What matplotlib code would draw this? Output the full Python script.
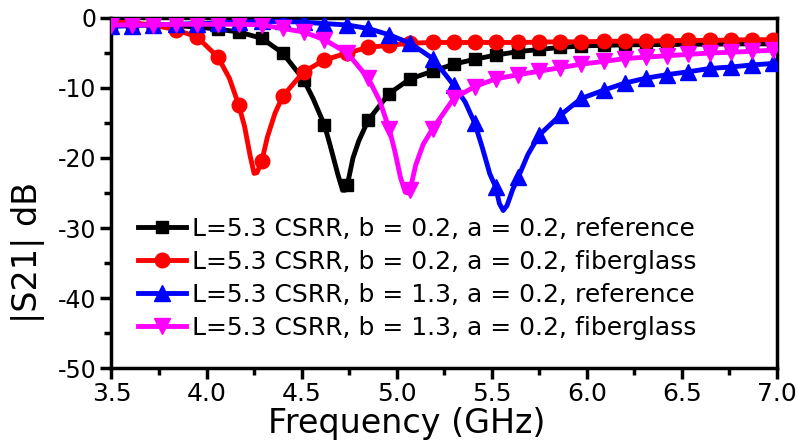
import numpy as np
import matplotlib.pyplot as plt
from matplotlib.ticker import MultipleLocator

plt.rcParams["axes.unicode_minus"] = False
plt.rcParams["font.family"] = "DejaVu Sans"

# marker frequencies (GHz), shared by all four curves
f_mark = [3.50, 3.61, 3.72, 3.84, 3.95, 4.06, 4.17, 4.29, 4.40, 4.51, 4.62,
          4.74, 4.85, 4.96, 5.07, 5.19, 5.30, 5.41, 5.52, 5.64, 5.75, 5.86,
          5.97, 6.09, 6.20, 6.31, 6.42, 6.53, 6.65, 6.76, 6.87, 6.98]

# |S21| in dB at the marker frequencies
black_mark = [-0.8, -0.9, -1.0, -1.1, -1.3, -1.6, -2.0, -2.9, -5.0, -8.8, -15.3,
              -23.9, -14.6, -10.8, -8.7, -7.6, -6.6, -5.9, -5.3, -4.8, -4.5, -4.2,
              -4.0, -3.9, -3.85, -3.8, -3.8, -3.75, -3.75, -3.7, -3.7, -3.7]
red_mark = [-0.6, -0.7, -1.0, -1.7, -2.7, -5.6, -12.5, -20.5, -11.2, -7.7, -6.0,
            -5.0, -4.2, -3.9, -3.6, -3.5, -3.5, -3.5, -3.5, -3.5, -3.45, -3.4,
            -3.4, -3.35, -3.3, -3.3, -3.25, -3.2, -3.2, -3.15, -3.1, -3.1]
blue_mark = [-1.2, -1.1, -1.0, -0.9, -0.8, -0.7, -0.6, -0.5, -0.5, -0.6, -0.8,
             -1.0, -1.5, -2.4, -3.6, -5.8, -9.6, -15.0, -24.1, -22.7, -16.7, -13.9,
             -11.5, -10.3, -9.3, -8.6, -8.1, -7.7, -7.2, -7.0, -6.7, -6.5]
magenta_mark = [-1.0, -1.0, -1.0, -0.9, -0.9, -0.9, -0.9, -1.0, -1.5, -2.0, -3.1,
                -5.0, -8.6, -15.8, -24.6, -15.8, -11.5, -9.8, -8.7, -8.1, -7.6, -7.1,
                -6.6, -6.2, -5.8, -5.6, -5.4, -5.2, -5.0, -4.9, -4.75, -4.6]

# extra points of the curves between markers (around the dips, end point)
black_f_extra = [4.56, 4.65, 4.69, 4.715, 4.73, 4.77, 4.80, 7.0]
black_extra = [-11.5, -18.2, -22.3, -24.6, -24.6, -20.0, -17.6, -3.7]
red_f_extra = [4.12, 4.20, 4.23, 4.25, 4.265, 4.32, 4.36, 7.0]
red_extra = [-8.6, -15.5, -19.8, -22.2, -22.1, -17.0, -13.6, -3.1]
blue_f_extra = [5.36, 5.45, 5.49, 5.54, 5.56, 5.58, 5.61, 5.69, 7.0]
blue_extra = [-12.0, -18.5, -22.3, -26.5, -27.5, -26.8, -24.5, -19.5, -6.4]
magenta_f_extra = [4.91, 4.99, 5.02, 5.045, 5.06, 5.10, 5.14, 7.0]
magenta_extra = [-11.8, -19.0, -22.8, -24.9, -25.0, -21.0, -18.0, -4.6]

labels = ["L=5.3 CSRR, b = 0.2, a = 0.2, reference",
          "L=5.3 CSRR, b = 0.2, a = 0.2, fiberglass",
          "L=5.3 CSRR, b = 1.3, a = 0.2, reference",
          "L=5.3 CSRR, b = 1.3, a = 0.2, fiberglass"]

series = [
    (black_mark, black_f_extra, black_extra, "black", "s", 9),
    (red_mark, red_f_extra, red_extra, "#ff0000", "o", 10.5),
    (blue_mark, blue_f_extra, blue_extra, "#0000ff", "^", 11),
    (magenta_mark, magenta_f_extra, magenta_extra, "#ff00ff", "v", 11),
]

fig = plt.figure(figsize=(7.98, 4.45), dpi=100)
ax = fig.add_axes([0.1397, 0.173, 0.834, 0.7866])

for (mk, fx, vx, col, m, ms), lab in zip(series, labels):
    f = np.array(f_mark + fx)
    v = np.array(mk + vx)
    is_mark = np.array([True] * len(f_mark) + [False] * len(fx))
    order = np.argsort(f, kind="stable")
    f, v, is_mark = f[order], v[order], is_mark[order]
    ax.plot(f, v, color=col, lw=3.5, marker=m, ms=ms, solid_joinstyle="round",
            markevery=list(np.where(is_mark)[0]), label=lab, zorder=3)

ax.set_xlim(3.5, 7.0)
ax.set_ylim(-50, 0)
ax.xaxis.set_major_locator(MultipleLocator(0.5))
ax.xaxis.set_minor_locator(MultipleLocator(0.25))
ax.yaxis.set_major_locator(MultipleLocator(10))
ax.yaxis.set_minor_locator(MultipleLocator(5))
ax.xaxis.set_major_formatter(plt.FuncFormatter(lambda x, p: f"{x:.1f}"))

for s in ax.spines.values():
    s.set_linewidth(2.5)

ax.tick_params(which="major", direction="out", length=8, width=2.5)
ax.tick_params(which="minor", direction="out", length=5, width=2.5)
ax.tick_params(axis="x", labelsize=18, pad=2)
ax.tick_params(axis="y", labelsize=17, pad=3)

ax.set_xlabel("Frequency (GHz)", fontsize=24)
ax.xaxis.set_label_coords(0.444, -0.11)
ax.set_ylabel("|S21| dB", fontsize=24)
ax.yaxis.set_label_coords(-0.1, 0.331)

ax.legend(loc="upper left", bbox_to_anchor=(0.04, 0.432), frameon=False,
          handlelength=1.9, handletextpad=0.25, labelspacing=0.36,
          borderpad=0, borderaxespad=0, fontsize=18)

fig.savefig("out.png", dpi=100)
